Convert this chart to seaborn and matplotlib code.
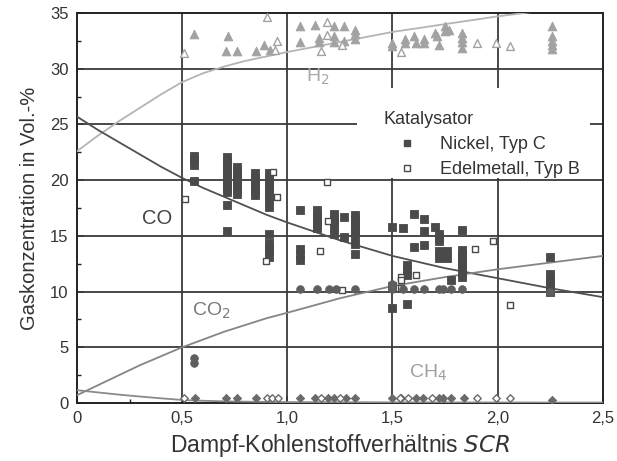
import pandas as pd
import matplotlib
matplotlib.use("Agg")
import matplotlib.pyplot as plt
from matplotlib.patches import Rectangle
from matplotlib.lines import Line2D
from matplotlib.ticker import MultipleLocator
import seaborn as sns

# ---- measured points (SCR, concentration) ----
# H2, Nickel Typ C (filled triangles)
h2_ni_x = [0.556, 0.72, 0.71, 0.76, 0.85, 0.89, 0.92, 1.06, 1.13, 1.22, 1.27, 1.32, 1.32, 1.32,
           1.06, 1.15, 1.15, 1.22, 1.22, 1.27, 1.50, 1.50, 1.56, 1.56, 1.60, 1.61, 1.65, 1.65,
           1.70, 1.71, 1.72, 1.75, 1.75, 1.77, 1.83, 1.83, 1.83, 1.83, 2.26, 2.26, 2.26, 2.26, 2.26]
h2_ni_y = [33.1, 32.9, 31.6, 31.6, 31.6, 32.1, 31.7, 33.8, 33.9, 33.8, 33.8, 33.5, 33.1, 32.7,
           32.4, 32.8, 32.4, 32.9, 32.4, 32.5, 32.3, 32.0, 32.7, 32.3, 32.9, 32.3, 32.7, 32.3,
           33.2, 32.9, 32.1, 33.8, 33.4, 33.5, 33.2, 32.8, 32.4, 31.9, 33.8, 32.9, 32.5, 32.1, 31.8]
# H2, Edelmetall Typ B (open triangles)
h2_em_x = [0.51, 0.905, 0.95, 0.94, 1.19, 1.19, 1.16, 1.26, 1.54, 1.90, 1.99, 2.06]
h2_em_y = [31.4, 34.6, 32.5, 31.7, 34.2, 33.0, 31.6, 32.1, 31.5, 32.3, 32.3, 32.0]

# CO, Nickel Typ C (filled squares)
co_ni_x = [0.557] * 4 + [0.715] * 11 + [0.76] * 7 + [0.846] * 6 + [0.914] * 13 \
    + [1.06] * 4 + [1.14] * 5 + [1.22] * 5 + [1.27] * 2 + [1.32] * 8 \
    + [1.50] * 3 + [1.55] + [1.57] * 4 + [1.60] * 2 + [1.65] * 3 + [1.70] \
    + [1.72] * 5 + [1.76] * 2 + [1.78] + [1.83] * 8 + [2.25] * 6
co_ni_y = [22.2, 21.8, 21.4, 19.9,
           22.1, 21.7, 21.3, 20.9, 20.5, 20.1, 19.7, 19.3, 18.9, 17.8, 15.4,
           21.2, 20.8, 20.4, 20.0, 19.6, 19.2, 18.8,
           20.6, 20.2, 19.8, 19.4, 19.0, 18.7,
           20.6, 20.2, 19.8, 19.4, 19.0, 18.6, 18.2, 17.6, 15.2, 14.4, 14.0, 13.6, 13.1,
           17.3, 13.8, 13.3, 12.8,
           17.3, 16.9, 16.5, 16.1, 15.7,
           17.0, 16.6, 16.2, 15.8, 15.2,
           16.7, 14.9,
           16.9, 16.5, 16.1, 15.7, 15.3, 14.9, 14.3, 13.4,
           15.8, 10.5, 8.55,
           15.7,
           12.4, 11.9, 11.5, 8.9,
           17.0, 14.0,
           16.5, 15.4, 14.2,
           15.8,
           15.2, 14.8, 14.5, 13.6, 13.0,
           13.6, 13.0,
           11.0,
           15.5, 13.7, 13.3, 12.9, 12.5, 12.1, 11.7, 11.3,
           13.1, 11.6, 11.2, 10.8, 10.4, 10.0]
# CO, Edelmetall Typ B (open squares)
co_em_x = [0.513, 0.93, 0.95, 0.90, 1.19, 1.195, 1.155, 1.26, 1.54, 1.54, 1.54, 1.61, 1.89, 1.98, 2.06]
co_em_y = [18.3, 20.7, 18.5, 12.7, 19.8, 16.3, 13.6, 10.1, 11.3, 11.0, 10.3, 11.5, 13.8, 14.5, 8.8]

# CO2 (circles)
co2_x = [0.557, 0.557, 1.06, 1.14, 1.20, 1.23, 1.32, 1.50, 1.50, 1.55, 1.60, 1.65,
         1.72, 1.74, 1.78, 1.83, 2.25]
co2_y = [3.6, 4.0, 10.2, 10.2, 10.2, 10.2, 10.2, 10.2, 10.7, 10.2, 10.2, 10.2,
         10.2, 10.2, 10.2, 10.2, 10.0]

# CH4 (diamonds)
ch4_ni_x = [0.56, 0.71, 0.76, 0.85, 1.06, 1.13, 1.195, 1.22, 1.28, 1.32, 1.50, 1.54,
            1.61, 1.645, 1.72, 1.74, 1.78, 1.84, 2.26]
ch4_ni_y = [0.45, 0.45, 0.45, 0.45, 0.45, 0.45, 0.45, 0.45, 0.45, 0.45, 0.45, 0.45,
            0.45, 0.45, 0.45, 0.45, 0.45, 0.45, 0.3]
ch4_em_x = [0.51, 0.905, 0.925, 0.955, 1.16, 1.25, 1.535, 1.575, 1.69, 1.90, 1.99, 2.06]
ch4_em_y = [0.45] * 12

# ---- equilibrium curves ----
curve_x = [0, 0.1, 0.2, 0.3, 0.4, 0.5, 0.6, 0.7, 0.8, 0.9, 1.0, 1.25, 1.5, 1.75, 2.0, 2.25, 2.5]
curve_h2 = [22.6, 24.0, 25.3, 26.5, 27.7, 28.8, 29.6, 30.2, 30.7, 31.1, 31.5, 32.4, 33.3, 34.0, 34.7, 35.3, 35.9]
curve_co = [25.7, 24.5, 23.4, 22.3, 21.2, 20.2, 19.3, 18.5, 17.7, 16.9, 16.2, 14.6, 13.2, 12.1, 11.2, 10.3, 9.5]
curve_co2 = [0.7, 1.6, 2.5, 3.4, 4.2, 5.0, 5.7, 6.4, 7.0, 7.6, 8.1, 9.4, 10.5, 11.3, 12.0, 12.6, 13.2]
curve_ch4 = [1.15, 0.95, 0.75, 0.58, 0.42, 0.27, 0.2, 0.15, 0.12, 0.1, 0.08, 0.07, 0.06, 0.05, 0.05, 0.04, 0.04]

x_ticks = [0, 0.5, 1.0, 1.5, 2.0, 2.5]
x_ticklabels = ["0", "0,5", "1,0", "1,5", "2,0", "2,5"]
y_ticks = [0, 5, 10, 15, 20, 25, 30, 35]

sns.set_theme(style="white")
plt.rcParams["font.family"] = ["Liberation Sans", "DejaVu Sans"]

fig = plt.figure(figsize=(6.17, 4.61), dpi=100)
ax = fig.add_axes([0.1248, 0.1258, 0.8522, 0.846])

# grid
for v in x_ticks[1:-1]:
    ax.axvline(v, color="#3a3a3a", lw=1.3, zorder=1)
for v in y_ticks[1:-1]:
    ax.axhline(v, color="#3a3a3a", lw=1.3, zorder=1)
# white box behind legend
ax.add_patch(Rectangle((1.33, 20.15), 1.11, 8.1, facecolor="white", edgecolor="none", zorder=2))

# curves
sns.lineplot(x=curve_x, y=curve_h2, color="#b4b4b4", lw=1.3, ax=ax, zorder=3)
sns.lineplot(x=curve_x, y=curve_co, color="#505050", lw=1.3, ax=ax, zorder=3)
sns.lineplot(x=curve_x, y=curve_co2, color="#858585", lw=1.3, ax=ax, zorder=3)
sns.lineplot(x=curve_x, y=curve_ch4, color="#8a8a8a", lw=1.3, ax=ax, zorder=3)

# points
def pts(x, y, marker, c, filled, s=32):
    if filled:
        sns.scatterplot(x=x, y=y, marker=marker, color=c, edgecolor=c, linewidth=0.6,
                        s=s, ax=ax, zorder=4)
    else:
        sns.scatterplot(x=x, y=y, marker=marker, color="white", edgecolor=c, linewidth=1.0,
                        s=s * 0.8, ax=ax, zorder=4)

pts(h2_ni_x, h2_ni_y, "^", "#a2a2a2", True, 40)
pts(h2_em_x, h2_em_y, "^", "#a2a2a2", False, 40)
pts(co_ni_x, co_ni_y, "s", "#4a4a4a", True, 30)
pts(co_em_x, co_em_y, "s", "#4a4a4a", False, 30)
pts(co2_x, co2_y, "o", "#5e5e5e", True, 30)
pts(ch4_ni_x, ch4_ni_y, "D", "#6a6a6a", True, 18)
pts(ch4_em_x, ch4_em_y, "D", "#6a6a6a", False, 18)

# curve labels
ax.text(0.31, 16.6, "CO", fontsize=14.5, color="#454545", va="center", zorder=5)
ax.text(1.09, 29.3, "H$_2$", fontsize=14, color="#a8a8a8", va="center", zorder=5)
ax.text(0.545, 8.3, "CO$_2$", fontsize=14, color="#7a7a7a", va="center", zorder=5)
ax.text(1.58, 2.7, "CH$_4$", fontsize=14, color="#a0a0a0", va="center", zorder=5)

# legend
handles = [Line2D([], [], marker="s", ls="", color="#4a4a4a", markersize=5),
           Line2D([], [], marker="s", ls="", markerfacecolor="white", markeredgecolor="#4a4a4a",
                  markersize=5, markeredgewidth=1.0)]
leg = ax.legend(handles, ["Nickel, Typ C", "Edelmetall, Typ B"], title="Katalysator",
                loc="upper left", bbox_to_anchor=(0.566, 0.772), frameon=False,
                fontsize=13, title_fontsize=13, handlelength=2.6, handletextpad=0.5,
                labelspacing=0.45, alignment="left", borderpad=0.0)
for t in leg.get_texts():
    t.set_color("#333333")
leg.get_title().set_color("#333333")

ax.set_xlim(0, 2.5)
ax.set_ylim(0, 35)
ax.set_xticks(x_ticks)
ax.set_xticklabels(x_ticklabels)
ax.set_yticks(y_ticks)
ax.xaxis.set_minor_locator(MultipleLocator(0.25))
ax.yaxis.set_minor_locator(MultipleLocator(2.5))
ax.tick_params(which="major", direction="in", length=5, width=1.2, color="#222222",
               labelsize=12, labelcolor="#333333", left=True, bottom=True, pad=6)
ax.tick_params(which="minor", direction="in", length=3, width=1.0, color="#222222",
               left=True, bottom=True)
for sp in ax.spines.values():
    sp.set_color("#222222")
    sp.set_linewidth(1.4)

ax.set_xlabel("Dampf-Kohlenstoffverhältnis $\\it{SCR}$", fontsize=16.5, color="#333333", labelpad=4)
ax.set_ylabel("Gaskonzentration in Vol.-%", fontsize=14.5, color="#333333", labelpad=8)

fig.savefig("out.png", dpi=100)
